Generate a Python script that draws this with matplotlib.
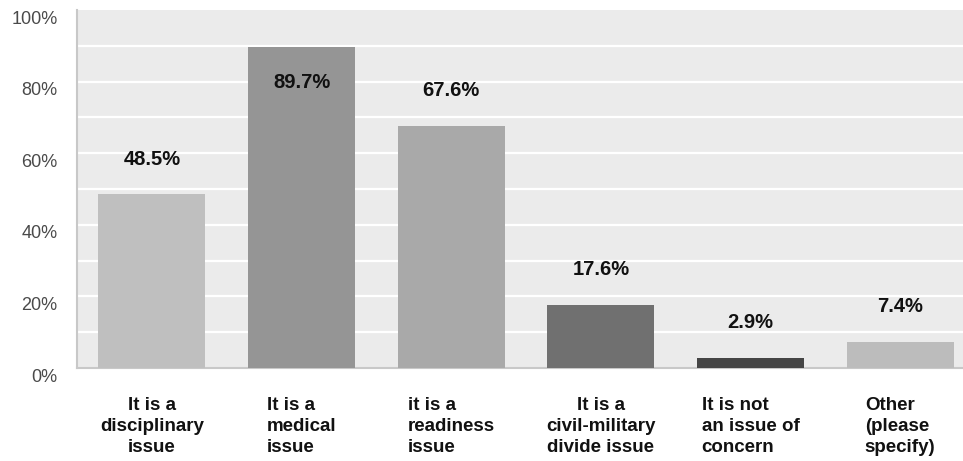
import matplotlib.pyplot as plt
import matplotlib.transforms as mtransforms

categories = [
    "It is a\ndisciplinary\nissue",
    "It is a\nmedical\nissue",
    "it is a\nreadiness\nissue",
    "It is a\ncivil-military\ndivide issue",
    "It is not\nan issue of\nconcern",
    "Other\n(please\nspecify)",
]
values = [48.5, 89.7, 67.6, 17.6, 2.9, 7.4]
bar_colors = ["#bfbfbf", "#959595", "#a9a9a9", "#707070", "#454545", "#bcbcbc"]
label_align = ["center", "left", "left", "center", "left", "left"]
y_ticks = [0, 20, 40, 60, 80, 100]

plt.rcParams['font.family'] = ['Liberation Sans', 'DejaVu Sans']

fig = plt.figure(figsize=(9.63, 4.61), dpi=100)
# axes run past the right edge, the chart is cut off there
ax = fig.add_axes([77 / 963, (461 - 368) / 461, 898 / 963, 358 / 461])
ax.set_facecolor("#ebebeb")

x = list(range(len(values)))
ax.bar(x, values, width=0.715, color=bar_colors, zorder=3)

ax.set_xlim(-0.5, len(values) - 0.5)
ax.set_ylim(0, 100)

# white grid every 10%
for g in range(10, 100, 10):
    ax.axhline(g, color="white", lw=1.6, zorder=1)

for s in ["top", "right"]:
    ax.spines[s].set_visible(False)
ax.spines["left"].set_color("#c8c8c8")
ax.spines["bottom"].set_color("#c8c8c8")
ax.spines["left"].set_linewidth(1.5)
ax.spines["bottom"].set_linewidth(1.5)

ax.set_yticks(y_ticks)
ax.set_yticklabels([f"{t}%" for t in y_ticks], fontsize=13, color="#4a4a4a")
ax.tick_params(axis="y", length=0, pad=14)
shift = mtransforms.ScaledTranslation(0, -7 / 100, fig.dpi_scale_trans)
for lab in ax.get_yticklabels():
    lab.set_transform(lab.get_transform() + shift)

ax.set_xticks([])
for xi, cat, al in zip(x, categories, label_align):
    ax.text(xi, -8.0, cat, ha="center", va="top", multialignment=al,
            fontsize=13.5, fontweight="bold", color="#111111", linespacing=1.32,
            transform=ax.transData, clip_on=False)

# value labels above bars, dropped inside when they would leave the plot
for xi, v in zip(x, values):
    ypos = v + 9.8
    if ypos > 95:
        ypos = v - 10
    ax.text(xi, ypos, f"{v}%", ha="center", va="center", fontsize=14.5,
            fontweight="bold", color="#111111", zorder=4)

plt.savefig("out.png", dpi=100)
